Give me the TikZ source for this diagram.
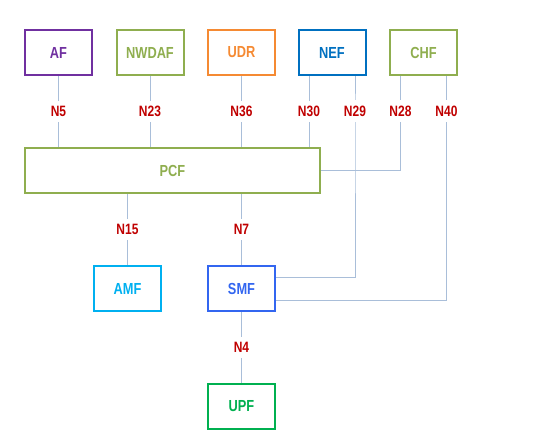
\documentclass[tikz,border=0pt]{standalone}
\usepackage{fontspec}
\setmainfont{Liberation Sans}[FakeStretch=0.8]
\definecolor{afcol}{HTML}{7030A0}
\definecolor{greencol}{HTML}{8FAE4F}
\definecolor{udrcol}{HTML}{F58A33}
\definecolor{nefcol}{HTML}{0070C0}
\definecolor{amfcol}{HTML}{00B0F0}
\definecolor{smfcol}{HTML}{3366F0}
\definecolor{upfcol}{HTML}{00B050}
\definecolor{lblcol}{HTML}{C00000}
\definecolor{linkcol}{HTML}{A9BED9}

\begin{document}
\begin{tikzpicture}[x=1pt,y=-1pt,
    nf/.style={rectangle,draw,line width=2pt,minimum width=67pt,minimum height=45pt,
        font=\fontsize{16}{19}\selectfont\bfseries},
    lbl/.style={fill=white,inner xsep=2pt,inner ysep=5.5pt,text=lblcol,
        font=\fontsize{15}{18}\selectfont\bfseries},
    link/.style={draw=linkcol,line width=1pt}]
                    \useasboundingbox (0,0) rectangle (542,439);
                    \path
                    (58.5,52.5) node[nf,draw=afcol,text=afcol](af) {AF}
                    (150,52.5) node[nf,draw=greencol,text=greencol](nwdaf) {NWDAF}
                    (241.5,52.5) node[nf,draw=udrcol,text=udrcol](udr) {UDR}
                    (332,52.5) node[nf,draw=nefcol,text=nefcol](nef) {NEF}
                    (423.5,52.5) node[nf,draw=greencol,text=greencol](chf) {CHF}
                    (172.5,170.5) node[nf,draw=greencol,text=greencol,minimum width=295pt](pcf) {PCF}
                    (127.5,288.5) node[nf,draw=amfcol,text=amfcol](amf) {AMF}
                    (241.5,288.5) node[nf,draw=smfcol,text=smfcol](smf) {SMF}
                    (241.5,406.5) node[nf,draw=upfcol,text=upfcol](upf) {UPF};

                    \draw[link] (af) -- node[lbl](n5){N5} (af |- pcf.north);
                    \draw[link] (nwdaf) -- node[lbl](n23){N23} (nwdaf |- pcf.north);
                    \draw[link] (udr) -- node[lbl](n36){N36} (udr |- pcf.north);
                    \draw[link] ([xshift=-23pt]nef.south) -- node[lbl](n30){N30} ([xshift=-23pt]nef.south |- pcf.north);
                    \draw[link] ([xshift=23pt]nef.south) -- ++(0,35) node[lbl](n29){N29} |- ([yshift=11.5pt]smf.east);
                    \draw[link] ([xshift=-23pt]chf.south) -- ++(0,35) node[lbl](n28){N28} |- (pcf.east);
                    \draw[link] ([xshift=23pt]chf.south) -- ++(0,35) node[lbl](n40){N40} |- ([yshift=-11.5pt]smf.east);

                    \draw[link] (amf |- pcf.south) -- node[lbl](n15){N15} (amf);
                    \draw[link] (smf |- pcf.south) -- node[lbl](n7){N7} (smf);
                    \draw[link] (smf) -- node[lbl](n4){N4} (upf);
                \end{tikzpicture}
\end{document}
